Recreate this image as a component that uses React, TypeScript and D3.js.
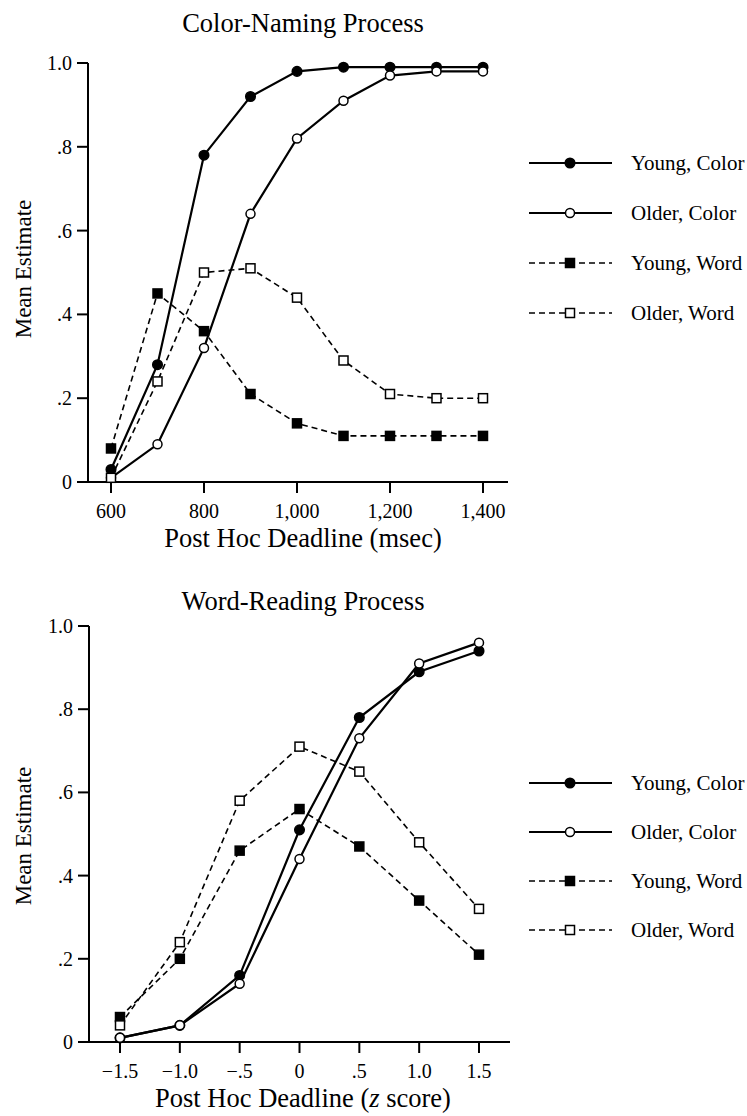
import * as d3 from "d3";

// top panel: post hoc deadline in msec
const msecTicks = [600, 700, 800, 900, 1000, 1100, 1200, 1300, 1400];
const msecTickLabels = ["600", "800", "1,000", "1,200", "1,400"];
const msecLabelValues = [600, 800, 1000, 1200, 1400];
const topYoungColor = [0.03, 0.28, 0.78, 0.92, 0.98, 0.99, 0.99, 0.99, 0.99];
const topOlderColor = [0.01, 0.09, 0.32, 0.64, 0.82, 0.91, 0.97, 0.98, 0.98];
const topYoungWord = [0.08, 0.45, 0.36, 0.21, 0.14, 0.11, 0.11, 0.11, 0.11];
const topOlderWord = [0.01, 0.24, 0.5, 0.51, 0.44, 0.29, 0.21, 0.2, 0.2];

// bottom panel: post hoc deadline as z score
const zTicks = [-1.5, -1.0, -0.5, 0, 0.5, 1.0, 1.5];
const zTickLabels = ["\u22121.5", "\u22121.0", "\u2212.5", "0", ".5", "1.0", "1.5"];
const botYoungColor = [0.01, 0.04, 0.16, 0.51, 0.78, 0.89, 0.94];
const botOlderColor = [0.01, 0.04, 0.14, 0.44, 0.73, 0.91, 0.96];
const botYoungWord = [0.06, 0.2, 0.46, 0.56, 0.47, 0.34, 0.21];
const botOlderWord = [0.04, 0.24, 0.58, 0.71, 0.65, 0.48, 0.32];

const yTicks = [0, 0.2, 0.4, 0.6, 0.8, 1.0];
const yTickLabels = ["0", ".2", ".4", ".6", ".8", "1.0"];

const seriesNames = ["Young, Color", "Older, Color", "Young, Word", "Older, Word"];

const FONT = "'Liberation Serif', 'DejaVu Serif', serif";

type Style = { dashed: boolean; shape: "circle" | "square"; filled: boolean };
const styles: Style[] = [
  { dashed: false, shape: "circle", filled: true },
  { dashed: false, shape: "circle", filled: false },
  { dashed: true, shape: "square", filled: true },
  { dashed: true, shape: "square", filled: false },
];

const Marker = ({ x, y, s }: { x: number; y: number; s: Style }) => {
  const fill = s.filled ? "#000" : "#fff";
  if (s.shape === "circle") {
    return <circle cx={x} cy={y} r={s.filled ? 4.8 : 4.5} fill={fill} stroke="#000" strokeWidth={1.5} />;
  }
  return <rect x={x - 4.5} y={y - 4.5} width={9} height={9} fill={fill} stroke="#000" strokeWidth={1.5} />;
};

interface PanelProps {
  title: string;
  titleY: number;
  top: number; // y of value 1.0
  bottom: number; // y of value 0
  xs: number[];
  xRange: [number, number];
  axisX: number;
  axisLeft: number;
  axisRight: number;
  labelValues: number[];
  labels: string[];
  tickValues: number[];
  series: number[][];
  xTitle: React.ReactNode;
  yTitleY: number;
  legendTop: number;
  legendStep: number;
}

const Panel = (p: PanelProps) => {
  const x = d3.scaleLinear().domain([p.xs[0], p.xs[p.xs.length - 1]]).range(p.xRange);
  const y = d3.scaleLinear().domain([0, 1]).range([p.bottom, p.top]);
  const line = d3.line<number>().x((_, i) => x(p.xs[i])).y((d) => y(d));
  const midX = 303;

  return (
    <g fontFamily={FONT} fill="#000">
      <text x={midX} y={p.titleY} textAnchor="middle" fontSize={26.5}>{p.title}</text>

      {/* y axis */}
      <line x1={p.axisX} x2={p.axisX} y1={p.top} y2={p.bottom} stroke="#000" strokeWidth={2} />
      {yTicks.map((t, i) => (
        <g key={t}>
          <line x1={p.axisX - 11} x2={p.axisX} y1={y(t)} y2={y(t)} stroke="#000" strokeWidth={2} />
          <text x={p.axisX - 16} y={y(t)} dy="0.35em" textAnchor="end" fontSize={20}>{yTickLabels[i]}</text>
        </g>
      ))}
      <text transform={`translate(31,${p.yTitleY}) rotate(-90)`} textAnchor="middle" fontSize={23}>Mean Estimate</text>

      {/* x axis */}
      <line x1={p.axisLeft} x2={p.axisRight} y1={p.bottom} y2={p.bottom} stroke="#000" strokeWidth={2} />
      {p.tickValues.map((t) => (
        <line key={t} x1={x(t)} x2={x(t)} y1={p.bottom} y2={p.bottom + 11} stroke="#000" strokeWidth={2} />
      ))}
      {p.labelValues.map((t, i) => (
        <text key={t} x={x(t)} y={p.bottom + 36} textAnchor="middle" fontSize={20}>{p.labels[i]}</text>
      ))}
      <text x={midX} y={p.bottom + 65} textAnchor="middle" fontSize={26.5}>{p.xTitle}</text>

      {/* series */}
      {p.series.map((vals, si) => (
        <path key={"l" + si} d={line(vals) ?? ""} fill="none" stroke="#000"
          strokeWidth={styles[si].dashed ? 1.6 : 2.2}
          strokeDasharray={styles[si].dashed ? "6,4" : undefined} />
      ))}
      {p.series.map((vals, si) =>
        vals.map((v, i) => <Marker key={si + "-" + i} x={x(p.xs[i])} y={y(v)} s={styles[si]} />)
      )}

      {/* legend */}
      {seriesNames.map((name, si) => {
        const ly = p.legendTop + si * p.legendStep;
        return (
          <g key={name}>
            <line x1={529} x2={612} y1={ly} y2={ly} stroke="#000"
              strokeWidth={styles[si].dashed ? 1.6 : 2.2}
              strokeDasharray={styles[si].dashed ? "6,4" : undefined} />
            <Marker x={570} y={ly} s={styles[si]} />
            <text x={631} y={ly} dy="0.35em" fontSize={21}>{name}</text>
          </g>
        );
      })}
    </g>
  );
};

export default function App() {
  return (
    <svg width={747} height={1116} style={{ position: "absolute", left: 0, top: 0, background: "#fff" }}>
      <rect width={747} height={1116} fill="#fff" />
      <Panel
        title="Color-Naming Process"
        titleY={32}
        top={63}
        bottom={482}
        xs={msecTicks}
        xRange={[111, 483]}
        axisX={88}
        axisLeft={77}
        axisRight={508}
        labelValues={msecLabelValues}
        labels={msecTickLabels}
        tickValues={msecLabelValues}
        series={[topYoungColor, topOlderColor, topYoungWord, topOlderWord]}
        xTitle="Post Hoc Deadline (msec)"
        yTitleY={269}
        legendTop={163}
        legendStep={50}
      />
      <Panel
        title="Word-Reading Process"
        titleY={610}
        top={626}
        bottom={1042}
        xs={zTicks}
        xRange={[120, 479]}
        axisX={89}
        axisLeft={79}
        axisRight={510}
        labelValues={zTicks}
        labels={zTickLabels}
        tickValues={zTicks}
        series={[botYoungColor, botOlderColor, botYoungWord, botOlderWord]}
        xTitle={<>Post Hoc Deadline (<tspan fontStyle="italic">z</tspan> score)</>}
        yTitleY={836}
        legendTop={783}
        legendStep={49}
      />
    </svg>
  );
}
